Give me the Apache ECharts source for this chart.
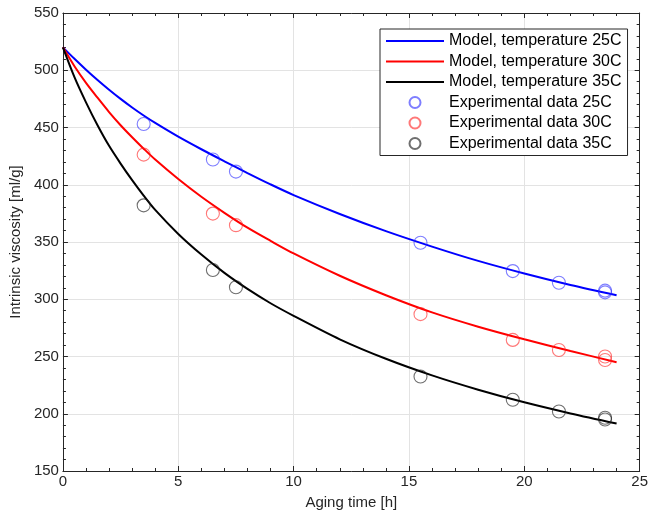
<!DOCTYPE html>
<html>
<head>
<meta charset="utf-8">
<script src="https://cdn.jsdelivr.net/npm/echarts@6/dist/echarts.min.js"></script>
<style>html,body{margin:0;padding:0;background:#fff;}#c{width:651px;height:515px;}</style>
</head>
<body>
<div id="c"></div>
<script>
// Model curves
const modelT = [0, 0.5, 1, 1.5, 2, 2.5, 3, 3.5, 4, 5, 6, 7, 8, 9, 10, 12, 14, 16, 18, 20, 22, 24];
const model25 = [520, 510, 500.5, 491.5, 483, 475, 467.5, 460.5, 454, 442, 431, 420.5, 410.2, 400.3, 391, 374.5, 359.5, 346, 333.5, 322.5, 312.5, 303.5];
const model30 = [520, 503.5, 489, 476, 463.5, 452, 441.5, 431.5, 422, 405, 389.5, 375.5, 362.5, 351, 340, 320.5, 303.5, 288.5, 276, 265, 254.8, 245];
const model35 = [520, 494, 472, 452, 434, 418.5, 404, 390.5, 378, 357, 339, 323, 309, 296.5, 285.5, 265, 248, 233.5, 221, 210, 200.3, 191.5];
// Experimental data
const expT = [3.5, 6.5, 7.5, 15.5, 19.5, 21.5, 23.5, 23.5];
const exp25 = [453, 422, 411.5, 349.3, 324.6, 314.4, 306, 307.5];
const exp30 = [426.3, 374.8, 364.7, 287, 264.5, 255.7, 250, 247];
const exp35 = [382, 325.5, 310.5, 232.5, 212.2, 202, 196.5, 195];
// Axes
const xMin = 0, xMax = 25, xStep = 5;
const yMin = 150, yMax = 550, yStep = 50;
const names = ['Model, temperature 25C', 'Model, temperature 30C', 'Model, temperature 35C',
  'Experimental data 25C', 'Experimental data 30C', 'Experimental data 35C'];

const pair = (xs, ys) => xs.map((x, i) => [x, ys[i]]);
const FONT = 'Liberation Sans, Arial, sans-serif';
const axisCol = '#262626';

function baseX(pos, labels) {
  return {
    type: 'value', min: xMin, max: xMax, interval: xStep, position: pos,
    axisLine: { show: true, onZero: false, lineStyle: { color: axisCol, width: 1 } },
    axisTick: { show: true, inside: true, length: 5, lineStyle: { color: axisCol } },
    minorTick: { show: true, splitNumber: 5, length: 3, lineStyle: { color: axisCol } },
    splitLine: { show: labels, lineStyle: { color: '#e3e3e3', width: 1 } },
    axisLabel: { show: labels, color: axisCol, fontFamily: FONT, fontSize: 15, margin: 3 }
  };
}
function baseY(pos, labels) {
  return {
    type: 'value', min: yMin, max: yMax, interval: yStep, position: pos,
    axisLine: { show: true, onZero: false, lineStyle: { color: axisCol, width: 1 } },
    axisTick: { show: true, inside: true, length: 5, lineStyle: { color: axisCol } },
    minorTick: { show: true, splitNumber: 5, length: 3, lineStyle: { color: axisCol } },
    splitLine: { show: labels, lineStyle: { color: '#e3e3e3', width: 1 } },
    axisLabel: { show: labels, color: axisCol, fontFamily: FONT, fontSize: 15, margin: 4 }
  };
}

const xa = baseX('bottom', true);
xa.name = 'Aging time [h]'; xa.nameLocation = 'middle'; xa.nameGap = 24;
xa.nameTextStyle = { color: axisCol, fontFamily: FONT, fontSize: 15 };
const ya = baseY('left', true);
ya.name = 'Intrinsic viscosity [ml/g]'; ya.nameLocation = 'middle'; ya.nameGap = 35;
ya.nameTextStyle = { color: axisCol, fontFamily: FONT, fontSize: 15 };

const lineS = (name, ys, col) => ({
  name, type: 'line', data: pair(modelT, ys), symbol: 'none', smooth: 0.3,
  lineStyle: { color: col, width: 2 }, itemStyle: { color: col }, z: 2
});
const scatS = (name, ys, col) => ({
  name, type: 'scatter', data: pair(expT, ys), symbol: 'circle', symbolSize: 13,
  itemStyle: { color: 'rgba(0,0,0,0)', borderColor: col, borderWidth: 1.1 }, z: 3
});
const lineIcon = 'path://M0,0 L58,0 L58,2 L0,2 Z';

const chart = echarts.init(document.getElementById('c'), null, { renderer: 'canvas' });
chart.setOption({
  animation: false,
  backgroundColor: '#fff',
  grid: { left: 57, right: 10, top: 13, bottom: 43, containLabel: false },
  xAxis: [xa, baseX('top', false)],
  yAxis: [ya, baseY('right', false)],
  legend: {
    orient: 'vertical', left: 380, top: 29,
    padding: [4, 6, 4, 6], itemWidth: 58, itemHeight: 11, itemGap: 4.5,
    backgroundColor: '#fff', borderColor: axisCol, borderWidth: 1,
    textStyle: { color: '#000', fontFamily: FONT, fontSize: 16, lineHeight: 16 },
    data: [
      { name: names[0], icon: lineIcon },
      { name: names[1], icon: lineIcon },
      { name: names[2], icon: lineIcon },
      { name: names[3] },
      { name: names[4] },
      { name: names[5] }
    ]
  },
  series: [
    lineS(names[0], model25, '#0000ff'),
    lineS(names[1], model30, '#ff0000'),
    lineS(names[2], model35, '#000000'),
    scatS(names[3], exp25, 'rgba(40,40,255,0.75)'),
    scatS(names[4], exp30, 'rgba(255,30,30,0.75)'),
    scatS(names[5], exp35, 'rgba(30,30,30,0.8)')
  ]
});
</script>
</body>
</html>
